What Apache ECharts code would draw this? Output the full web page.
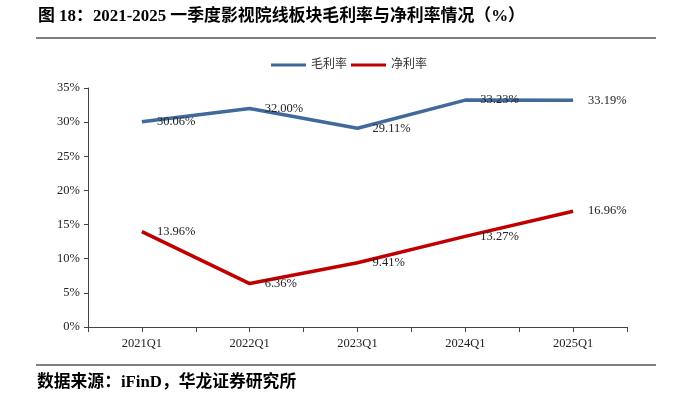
<!DOCTYPE html>
<html>
<head>
<meta charset="utf-8">
<script src="https://cdn.jsdelivr.net/npm/echarts@6/dist/echarts.min.js"></script>
<style>
  html, body { margin: 0; padding: 0; background: #fff; }
  #chart { width: 679px; height: 398px; }
</style>
</head>
<body>
<div id="chart"></div>
<script>
// 季度
var quarters = ['2021Q1', '2022Q1', '2023Q1', '2024Q1', '2025Q1'];
// 毛利率 / 净利率 (%)
var grossMargin = [30.06, 32.00, 29.11, 33.23, 33.19];
var netMargin = [13.96, 6.36, 9.41, 13.27, 16.96];

var serif = '"Liberation Serif", "Times New Roman", "Noto Sans CJK SC", serif';

var chart = echarts.init(document.getElementById('chart'));

var labelCfg = {
    show: true,
    position: 'right',
    distance: 15,
    color: '#222',
    fontFamily: serif,
    fontSize: 12.5,
    formatter: function (p) { return p.value.toFixed(2) + '%'; }
};

chart.setOption({
    animation: false,
    graphic: [
        {
            type: 'text', x: 38, y: 17,
            style: {
                text: '图 18：2021-2025 一季度影视院线板块毛利率与净利率情况（%）',
                font: 'bold 16.9px ' + serif, fill: '#000', verticalAlign: 'middle'
            }
        },
        { type: 'rect', shape: { x: 36, y: 37, width: 620, height: 2 }, style: { fill: '#7f7f7f' } },
        { type: 'rect', shape: { x: 36, y: 364, width: 620, height: 2 }, style: { fill: '#7f7f7f' } },
        {
            type: 'text', x: 37, y: 383,
            style: {
                text: '数据来源：iFinD，华龙证券研究所',
                font: 'bold 16.8px ' + serif, fill: '#000', verticalAlign: 'middle'
            }
        }
    ],
    legend: {
        top: 54,
        left: 266,
        itemWidth: 35,
        itemHeight: 3,
        itemGap: 4,
        icon: 'rect',
        textStyle: { fontSize: 12, color: '#333', fontFamily: serif },
        data: ['毛利率', '净利率']
    },
    grid: { left: 88, right: 52, top: 88, bottom: 71 },
    xAxis: [
        {
            type: 'category',
            data: quarters,
            boundaryGap: true,
            axisLine: { lineStyle: { color: '#444', width: 1 } },
            axisTick: { show: true, length: 5, lineStyle: { color: '#444' } },
            axisLabel: { color: '#222', fontFamily: serif, fontSize: 12.5, margin: 10 }
        },
        {
            type: 'category',
            data: quarters,
            position: 'bottom',
            boundaryGap: true,
            axisLine: { show: false },
            axisTick: { show: true, alignWithLabel: true, length: 5, lineStyle: { color: '#444' } },
            axisLabel: { show: false }
        }
    ],
    yAxis: {
        type: 'value',
        min: 0,
        max: 35,
        interval: 5,
        axisLine: { show: true, lineStyle: { color: '#444' } },
        axisTick: { show: true, length: 4, lineStyle: { color: '#444' } },
        splitLine: { show: false },
        axisLabel: { color: '#222', fontFamily: serif, fontSize: 12.5, margin: 8, formatter: '{value}%' }
    },
    series: [
        {
            name: '毛利率',
            type: 'line',
            data: grossMargin,
            symbol: 'circle',
            symbolSize: 0,
            showSymbol: true,
            lineStyle: { color: '#41699C', width: 3.5 },
            itemStyle: { color: '#41699C' },
            label: labelCfg
        },
        {
            name: '净利率',
            type: 'line',
            data: netMargin,
            symbol: 'circle',
            symbolSize: 0,
            showSymbol: true,
            lineStyle: { color: '#C00000', width: 3.5 },
            itemStyle: { color: '#C00000' },
            label: labelCfg
        }
    ]
});
</script>
</body>
</html>
